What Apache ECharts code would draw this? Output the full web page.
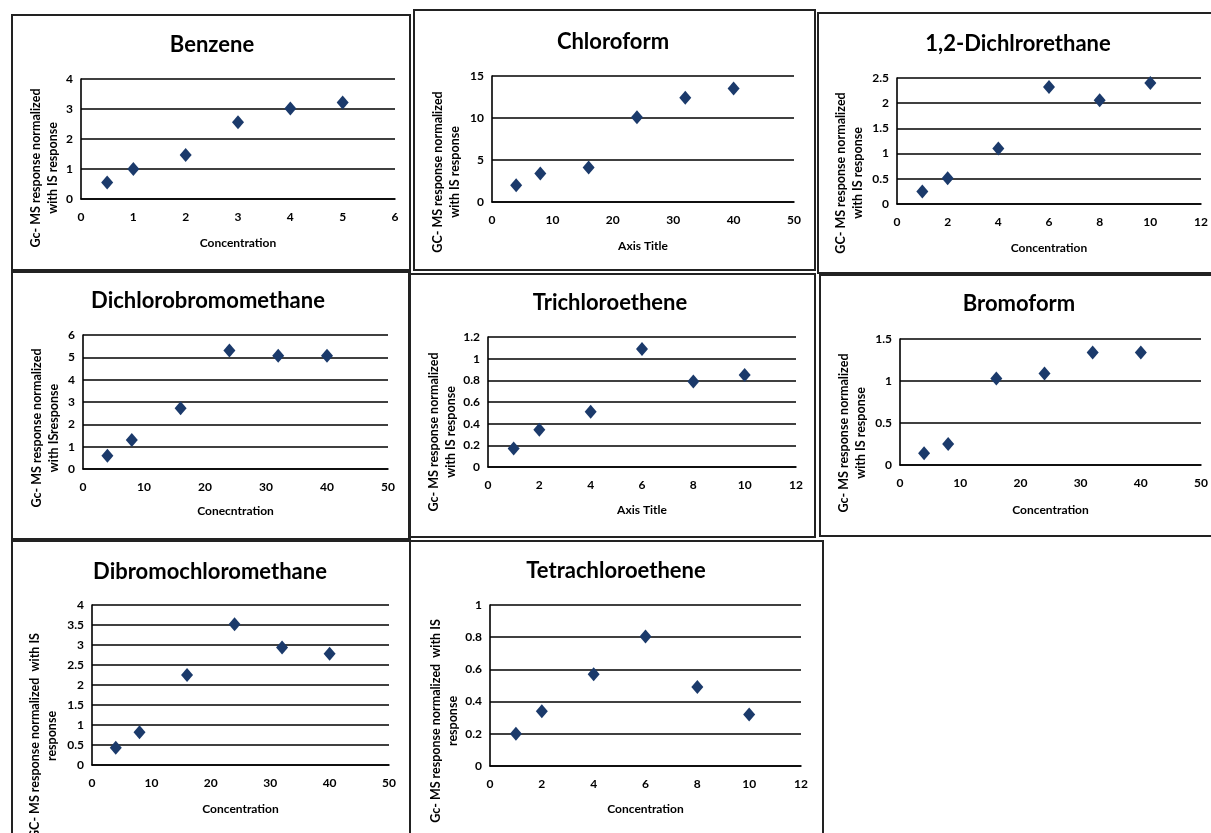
<!DOCTYPE html>
<html>
<head>
<meta charset="utf-8">
<script src="https://cdn.jsdelivr.net/npm/echarts@6/dist/echarts.min.js"></script>
<style>
html,body{margin:0;padding:0;background:#fff;}
#c{width:1211px;height:833px;}
</style>
</head>
<body>
<div id="c"></div>
<script>
// ---- data ----
const titles = ["Benzene","Chloroform","1,2-Dichlrorethane","Dichlorobromomethane","Trichloroethene","Bromoform","Dibromochloromethane","Tetrachloroethene"];
const xTitles = ["Concentration","Axis Title","Concentration","Conecntration","Axis Title","Concentration","Concentration","Concentration"];
const yTitles = [
  "Gc- MS response normalized\nwith IS response",
  "GC- MS response normalized\nwith IS response",
  "GC- MS response normalized\nwith IS response",
  "Gc- MS response normalized\nwith ISresponse",
  "Gc- MS response normalized\nwith IS response",
  "Gc- MS response normalized\nwith IS response",
  "GC- MS response normalized  with IS\nresponse",
  "Gc- MS response normalized  with IS\nresponse"
];
const benzeneX = [0.5, 1, 2, 3, 4, 5];
const benzeneY = [0.55, 1.0, 1.47, 2.56, 3.02, 3.22];
const chloroformX = [4, 8, 16, 24, 32, 40];
const chloroformY = [2.0, 3.4, 4.1, 10.1, 12.4, 13.5];
const dichloroethaneX = [1, 2, 4, 6, 8, 10];
const dichloroethaneY = [0.25, 0.51, 1.1, 2.32, 2.06, 2.4];
const dichlorobromoX = [4, 8, 16, 24, 32, 40];
const dichlorobromoY = [0.59, 1.3, 2.72, 5.31, 5.07, 5.07];
const trichloroX = [1, 2, 4, 6, 8, 10];
const trichloroY = [0.17, 0.345, 0.51, 1.09, 0.79, 0.85];
const bromoformX = [4, 8, 16, 24, 32, 40];
const bromoformY = [0.14, 0.25, 1.03, 1.09, 1.34, 1.34];
const dibromochloroX = [4, 8, 16, 24, 32, 40];
const dibromochloroY = [0.43, 0.82, 2.25, 3.52, 2.94, 2.78];
const tetrachloroX = [1, 2, 4, 6, 8, 10];
const tetrachloroY = [0.2, 0.34, 0.57, 0.805, 0.49, 0.32];
// axis ranges (tick labels)
const xMax = [6, 50, 12, 50, 12, 50, 50, 12];
const xStep = [1, 10, 2, 10, 2, 10, 10, 2];
const yMax = [4, 15, 2.5, 6, 1.2, 1.5, 4, 1];
const yStep = [1, 5, 0.5, 1, 0.2, 0.5, 0.5, 0.2];

const seriesX = [benzeneX, chloroformX, dichloroethaneX, dichlorobromoX, trichloroX, bromoformX, dibromochloroX, tetrachloroX];
const seriesY = [benzeneY, chloroformY, dichloroethaneY, dichlorobromoY, trichloroY, bromoformY, dibromochloroY, tetrachloroY];

// ---- layout ----
const FONT = "Lato, 'Open Sans', sans-serif";
const gridPos = [
  {left:81, top:79, width:314, height:120},
  {left:492, top:76, width:302, height:126},
  {left:897, top:78, width:304, height:126},
  {left:83, top:335, width:305, height:134},
  {left:488, top:337, width:308, height:130},
  {left:900, top:339, width:303, height:126},
  {left:92, top:605, width:297, height:160},
  {left:490, top:605, width:311, height:161}
];
const titlePos = [[212,44],[613,41],[1018,43],[208,300],[610,302],[1019,303],[210,571],[616,570]];
const yNamePos = [[44,168],[446,172],[849,173],[45,428],[442,432],[852,433],[43,736],[444,721]];
const xNameGap = [38,38,38,36,37,39,38,37];
const boxes = [
  [12,15,398,255],[414,10,401,260],[818,13,400,260],
  [12,272,398,267],[409,274,406,263],[820,275,400,261],
  [12,541,398,300],[410,541,413,300]
];

const grid = [], xAxis = [], yAxis = [], series = [], title = [], graphic = [];
for (let i = 0; i < 8; i++) {
  grid.push(Object.assign({containLabel:false}, gridPos[i]));
  title.push({
    text: titles[i], left: titlePos[i][0], top: titlePos[i][1] - 10, textAlign: 'center', padding: 0,
    textStyle: {fontFamily: FONT, fontWeight: 'bold', fontSize: 22, color: '#000'}
  });
  xAxis.push({
    gridIndex: i, type: 'value', min: 0, max: xMax[i], interval: xStep[i],
    axisLine: {show: true, onZero: false, lineStyle: {color: '#000', width: 1.6}},
    axisTick: {show: false}, splitLine: {show: false},
    axisLabel: {color: '#000', fontFamily: FONT, fontWeight: 'bold', fontSize: 12, margin: 12},
    name: xTitles[i], nameLocation: 'middle', nameGap: xNameGap[i],
    nameTextStyle: {color: '#000', fontFamily: FONT, fontWeight: 'bold', fontSize: 12}
  });
  yAxis.push({
    gridIndex: i, type: 'value', min: 0, max: yMax[i], interval: yStep[i],
    axisLine: {show: true, onZero: false, lineStyle: {color: '#000', width: 1.6}},
    axisTick: {show: false},
    splitLine: {show: true, lineStyle: {color: '#000', width: 1.6}},
    axisLabel: {color: '#000', fontFamily: FONT, fontWeight: 'bold', fontSize: 12, margin: 8}
  });
  series.push({
    type: 'scatter', xAxisIndex: i, yAxisIndex: i,
    symbol: 'diamond', symbolSize: [12, 14],
    itemStyle: {color: '#1B3A6B', opacity: 1},
    data: seriesX[i].map((x, k) => [x, seriesY[i][k]])
  });
  graphic.push({
    type: 'rect', silent: true, z: 100,
    shape: {x: boxes[i][0], y: boxes[i][1], width: boxes[i][2], height: boxes[i][3]},
    style: {fill: 'none', stroke: '#222', lineWidth: 2}
  });
  graphic.push({
    type: 'text', x: yNamePos[i][0], y: yNamePos[i][1], rotation: Math.PI / 2,
    style: {text: yTitles[i], textAlign: 'center', textVerticalAlign: 'middle',
      fontFamily: FONT, fontWeight: 'bold', fontSize: 12.5, lineHeight: 17, fill: '#000'}
  });
}

const chart = echarts.init(document.getElementById('c'), null, {renderer: 'canvas'});
chart.setOption({
  animation: false, backgroundColor: '#fff',
  title, grid, xAxis, yAxis, series, graphic
});
</script>
</body>
</html>
